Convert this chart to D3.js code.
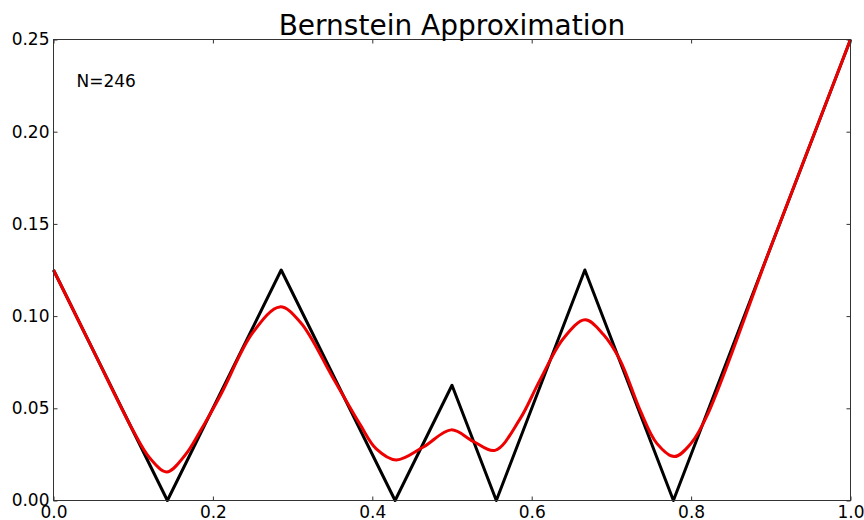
<!DOCTYPE html>
<html>
<head>
<meta charset="utf-8">
<script src="https://cdn.jsdelivr.net/npm/d3@7"></script>
<style>
  body { margin: 0; background: #fff; }
  text { font-family: "DejaVu Sans", sans-serif; fill: #000; }
</style>
</head>
<body>
<script>
// target function (piecewise linear)
const fX = [0, 0.1429, 0.2857, 0.4286, 0.5, 0.5556, 0.6667, 0.7778, 1.0]
const fY = [0.125, 0, 0.125, 0, 0.0625, 0, 0.125, 0, 0.25]

// bernstein approximation
const bX = [0, 0.05, 0.1, 0.12, 0.142, 0.165, 0.184, 0.21, 0.25, 0.284, 0.31, 0.35, 0.385, 0.405, 0.43, 0.464, 0.499, 0.527, 0.554, 0.585, 0.61, 0.64, 0.667, 0.69, 0.711, 0.736, 0.757, 0.779, 0.80, 0.82, 0.9, 1.0]
const bY = [0.125, 0.0813, 0.0378, 0.0235, 0.0155, 0.0245, 0.0375, 0.0575, 0.091, 0.105, 0.0965, 0.067, 0.041, 0.028, 0.022, 0.029, 0.0383, 0.032, 0.0272, 0.044, 0.065, 0.088, 0.098, 0.090, 0.076, 0.049, 0.031, 0.0238, 0.031, 0.046, 0.1375, 0.25]

const xTicks = [0, 0.2, 0.4, 0.6, 0.8, 1.0]
const yTicks = [0, 0.05, 0.10, 0.15, 0.20, 0.25]

const title = "Bernstein Approximation"
const note = "N=246"

const W = 864, H = 520
const margin = { top: 39.5, right: 13.5, bottom: 19.5, left: 53.5 }
const width = W - margin.left - margin.right,
      height = H - margin.top - margin.bottom

const svg = d3.select("body").append("svg")
    .attr("width", W)
    .attr("height", H)

const g = svg.append("g")
    .attr("transform", "translate(" + margin.left + "," + margin.top + ")")

const x = d3.scaleLinear().domain([0, 1]).range([0, width])
const y = d3.scaleLinear().domain([0, 0.25]).range([height, 0])

// axes with inward ticks
const axStyle = sel => {
    sel.select(".domain").remove()
    sel.selectAll(".tick line").attr("stroke", "#333").attr("stroke-width", 1)
    sel.selectAll("text").style("font-size", "17px").attr("fill", "#000")
}

g.append("g")
    .attr("transform", "translate(0," + height + ")")
    .call(d3.axisBottom(x).tickValues(xTicks).tickFormat(d3.format(".1f")).tickSize(-4).tickSizeOuter(0).tickPadding(5.5))
    .call(axStyle)

g.append("g")
    .call(d3.axisLeft(y).tickValues(yTicks).tickFormat(d3.format(".2f")).tickSize(-4).tickSizeOuter(0).tickPadding(4))
    .call(axStyle)

g.append("g")
    .call(d3.axisTop(x).tickValues(xTicks).tickFormat("").tickSize(-4).tickSizeOuter(0))
    .call(axStyle)

g.append("g")
    .attr("transform", "translate(" + width + ",0)")
    .call(d3.axisRight(y).tickValues(yTicks).tickFormat("").tickSize(-4).tickSizeOuter(0))
    .call(axStyle)

// lines
const line = d3.line()
    .x(d => x(d[0]))
    .y(d => y(d[1]))

g.append("path")
    .datum(d3.zip(fX, fY))
    .attr("fill", "none")
    .attr("stroke", "#000")
    .attr("stroke-width", 3)
    .attr("stroke-linejoin", "round")
    .attr("d", line)

g.append("path")
    .datum(d3.zip(bX, bY))
    .attr("fill", "none")
    .attr("stroke", "#ee0000")
    .attr("stroke-width", 3)
    .attr("d", line.curve(d3.curveCatmullRom.alpha(0.5)))

// frame
g.append("rect")
    .attr("width", width)
    .attr("height", height)
    .attr("fill", "none")
    .attr("stroke", "#333")
    .attr("stroke-width", 1)

svg.append("text")
    .attr("x", margin.left + width / 2)
    .attr("y", 35)
    .attr("text-anchor", "middle")
    .style("font-size", "28px")
    .text(title)

g.append("text")
    .attr("x", 23)
    .attr("y", 47)
    .style("font-size", "17px")
    .text(note)
</script>
</body>
</html>
